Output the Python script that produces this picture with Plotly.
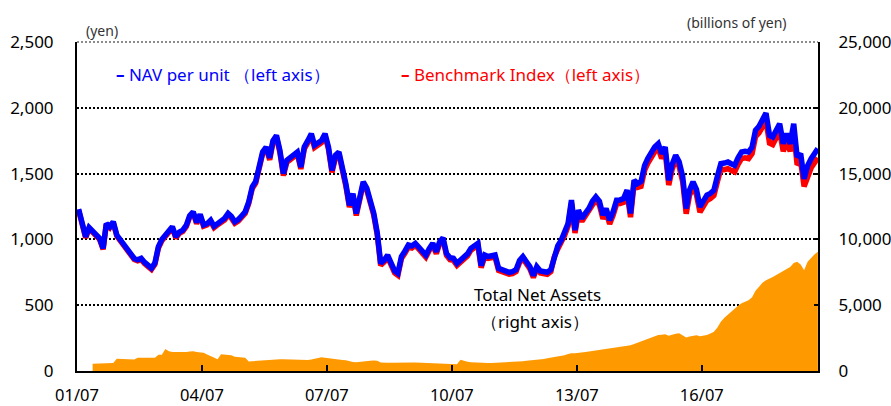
import pandas as pd
import plotly.graph_objects as go

# Monthly observations, July 2001 - April 2019 (plotted mid-month)
months = pd.date_range("2001-07-01", "2019-04-01", freq="MS") + pd.Timedelta(days=14)

# NAV per unit (yen, left axis)
nav = [
    1230, 1130, 1020, 1090, 1060, 1045,
    1008, 932, 1121, 1096, 1134, 1033, 1000, 965, 930, 900, 855, 845,
    856, 825, 800, 782, 820, 945, 1000, 1035, 1060, 1096, 1020, 1055,
    1071, 1109, 1180, 1210, 1130, 1190, 1110, 1120, 1146, 1100, 1120, 1134,
    1160, 1197, 1175, 1134, 1150, 1180, 1210, 1285, 1399, 1440, 1580, 1664,
    1702, 1620, 1750, 1790, 1677, 1500, 1601, 1626, 1640, 1664, 1550, 1702,
    1750, 1803, 1715, 1735, 1752, 1803, 1702, 1525, 1640, 1664, 1550, 1420,
    1260, 1348, 1197, 1330, 1437, 1390, 1298, 1200, 1050, 818, 843, 880,
    820, 760, 742, 869, 910, 957, 950, 970, 940, 907, 880, 930,
    970, 907, 980, 1012, 894, 860, 856, 818, 840, 869, 890, 932,
    950, 970, 800, 881, 870, 875, 881, 780, 770, 755, 750, 755,
    770, 840, 869, 830, 793, 725, 793, 760, 755, 750, 770, 881,
    950, 995, 1050, 1121, 1298, 1071, 1222, 1159, 1200, 1235, 1290, 1323,
    1290, 1184, 1235, 1146, 1210, 1298, 1300, 1310, 1374, 1197, 1449, 1424,
    1440, 1560, 1614, 1660, 1702, 1727, 1651, 1702, 1449, 1570, 1639, 1590,
    1480, 1235, 1374, 1437, 1380, 1247, 1300, 1336, 1350, 1374, 1480, 1576,
    1580, 1588, 1575, 1563, 1620, 1664, 1670, 1664, 1702, 1830, 1860, 1904,
    1960, 1790, 1778, 1830, 1879, 1727, 1803, 1727, 1879, 1626, 1651, 1460,
    1560, 1614, 1650, 1690,
]

# Benchmark index (left axis)
bench = [
    1222, 1122, 1012, 1082, 1052, 1037,
    1000, 924, 1113, 1088, 1126, 1025, 992, 957, 922, 892, 847, 837,
    846, 815, 790, 772, 810, 935, 990, 1025, 1050, 1086, 1010, 1045,
    1061, 1099, 1170, 1200, 1120, 1180, 1100, 1110, 1136, 1090, 1110, 1124,
    1148, 1185, 1163, 1122, 1138, 1168, 1198, 1273, 1387, 1428, 1568, 1652,
    1687, 1605, 1735, 1775, 1662, 1485, 1586, 1611, 1625, 1649, 1535, 1687,
    1734, 1787, 1699, 1719, 1736, 1787, 1686, 1509, 1624, 1648, 1534, 1404,
    1245, 1333, 1182, 1315, 1422, 1375, 1283, 1185, 1035, 803, 828, 865,
    805, 745, 727, 854, 895, 942, 935, 955, 925, 892, 865, 915,
    955, 892, 965, 997, 879, 845, 841, 803, 825, 854, 875, 917,
    935, 955, 785, 866, 855, 860, 866, 765, 755, 740, 735, 740,
    755, 825, 854, 815, 778, 710, 778, 745, 740, 735, 755, 866,
    928, 973, 1028, 1099, 1276, 1049, 1200, 1137, 1178, 1213, 1268, 1301,
    1262, 1156, 1207, 1118, 1182, 1270, 1272, 1282, 1346, 1169, 1421, 1396,
    1404, 1524, 1578, 1624, 1666, 1691, 1615, 1666, 1413, 1534, 1603, 1554,
    1440, 1195, 1334, 1397, 1340, 1207, 1260, 1296, 1310, 1334, 1440, 1536,
    1530, 1538, 1525, 1513, 1570, 1614, 1620, 1614, 1652, 1780, 1810, 1854,
    1902, 1732, 1720, 1772, 1821, 1669, 1745, 1669, 1821, 1568, 1593, 1402,
    1490, 1544, 1580, 1620,
]

# Total net assets (billions of yen, right axis), from November 2001
assets = [
    550, 555,
    560, 570, 580, 590, 600, 940, 930, 920, 900, 890, 880, 1010,
    1000, 990, 980, 990, 1000, 1240, 1230, 1670, 1500, 1440, 1430, 1420,
    1440, 1450, 1480, 1500, 1450, 1420, 1380, 1250, 1150, 1050, 900, 1270,
    1260, 1240, 1200, 1080, 1040, 1020, 1000, 720, 740, 770, 800, 830,
    860, 880, 900, 910, 900, 890, 880, 870, 870, 860, 850, 840,
    840, 880, 940, 1000, 1040, 1000, 960, 930, 900, 870, 840, 820,
    740, 680, 660, 700, 740, 770, 780, 790, 780, 640, 610, 620,
    630, 640, 650, 650, 660, 660, 650, 640, 630, 620, 610, 600,
    600, 590, 585, 580, 560, 540, 530, 520, 860, 760, 700, 660,
    640, 630, 620, 610, 600, 610, 620, 630, 640, 650, 670, 680,
    690, 720, 750, 770, 790, 810, 840, 880, 920, 960, 1000, 1050,
    1100, 1150, 1200, 1300, 1350, 1340, 1390, 1420, 1450, 1480, 1520, 1560,
    1600, 1620, 1650, 1690, 1720, 1760, 1800, 1850, 1900, 1950, 2050, 2150,
    2250, 2330, 2450, 2550, 2650, 2730, 2750, 2800, 2680, 2780, 2830, 2860,
    2700, 2550, 2620, 2700, 2720, 2650, 2700, 2740, 2850, 2990, 3300, 3750,
    4050, 4300, 4500, 4750, 4950, 5150, 5250, 5380, 5600, 6100, 6400, 6700,
    6900, 7000, 7150, 7300, 7420, 7600, 7750, 7900, 8200, 8300, 8100, 7650,
    8300, 8600, 8850, 9070,
]
asset_dates = months[4:]

x_tick_dates = ["2001-07-01", "2004-07-01", "2007-07-01", "2010-07-01", "2013-07-01", "2016-07-01"]
x_tick_labels = ["01/07", "04/07", "07/07", "10/07", "13/07", "16/07"]
left_ticks = [0, 500, 1000, 1500, 2000, 2500]
right_ticks = [0, 5000, 10000, 15000, 20000, 25000]

W, H = 891, 406
L, R, T, B = 77, 818, 42, 371


def px(x):
    return (x - L) / (R - L)


def py(y):
    return (B - y) / (B - T)


def label(text, x, y, size=17, color="black", xanchor="center"):
    return dict(text=text, x=px(x), y=py(y), xref="paper", yref="paper",
                xanchor=xanchor, yanchor="middle", showarrow=False,
                font=dict(size=size, color=color))


fig = go.Figure()
fig.add_trace(go.Scatter(
    x=asset_dates, y=assets, yaxis="y2", mode="lines", fill="tozeroy",
    line=dict(color="#FF9900", width=0), fillcolor="#FF9900",
))
fig.add_trace(go.Scatter(
    x=months, y=bench, mode="lines", line=dict(color="#FF0000", width=5.5),
))
fig.add_trace(go.Scatter(
    x=months, y=nav, mode="lines", line=dict(color="#0000FF", width=5.5),
))

fig.update_layout(
    width=W, height=H,
    margin=dict(l=L, r=W - R, t=T, b=H - B, pad=0),
    plot_bgcolor="white", paper_bgcolor="white",
    font=dict(family="Noto Sans", size=17, color="black"),
    showlegend=False,
    xaxis=dict(
        type="date", range=["2001-07-01", "2019-04-16"],
        tickvals=x_tick_dates, ticktext=x_tick_labels,
        ticks="inside", ticklen=6, tickwidth=2, tickcolor="black",
        showline=True, linecolor="black", linewidth=2,
        showgrid=False, zeroline=False, ticklabelstandoff=8,
        tickfont=dict(size=16.5), automargin=False,
    ),
    yaxis=dict(
        range=[0, 2500], tickvals=left_ticks, tickformat=",",
        showgrid=True, gridcolor="black", gridwidth=2, griddash="2px,2px",
        showline=True, linecolor="black", linewidth=2,
        zeroline=False, ticks="", ticklabelstandoff=18, automargin=False,
    ),
    yaxis2=dict(
        overlaying="y", side="right", range=[0, 25000], tickvals=right_ticks,
        tickformat=",", showgrid=False, zeroline=False,
        showline=True, linecolor="black", linewidth=2,
        ticks="inside", ticklen=4, tickwidth=2, tickcolor="black",
        ticklabelstandoff=15, automargin=False,
    ),
    shapes=[
        dict(type="line", xref="paper", yref="paper", x0=0, x1=1, y0=1, y1=1,
             line=dict(color="white", width=3), layer="above"),
        dict(type="line", xref="paper", yref="paper", x0=0, x1=1, y0=1, y1=1,
             line=dict(color="#8c8c8c", width=2, dash="2px,2px"), layer="above"),
    ],
    annotations=[
        label("(yen)", 102, 31, size=14, color="#333333"),
        label("(billions of yen)", 737, 22, size=14, color="#333333"),
        label("<b>–</b> NAV per unit （left axis）", 114, 74,
              color="#0000FF", xanchor="left"),
        label("<b>–</b> Benchmark Index（left axis）", 399, 74,
              color="#FF0000", xanchor="left"),
        label("Total Net Assets", 537, 294),
        label("（right axis）", 535, 321),
    ],
)

fig.write_html("out.html")
